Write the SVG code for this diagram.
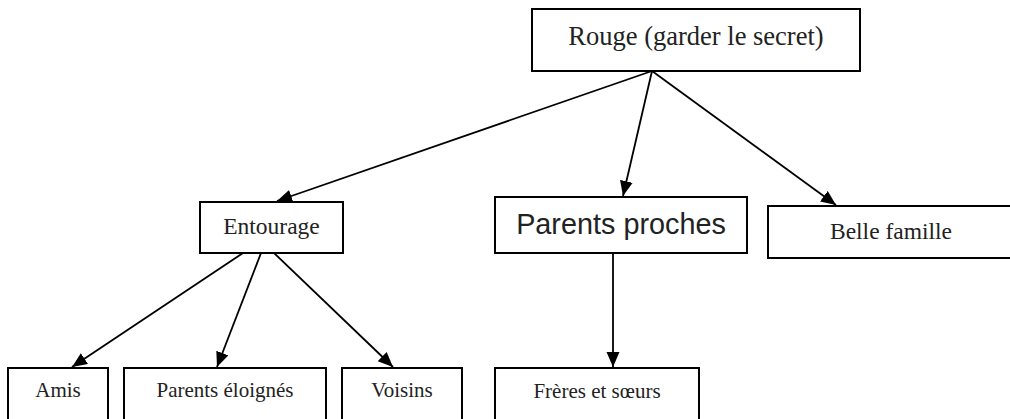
<svg xmlns="http://www.w3.org/2000/svg" width="1010" height="419" viewBox="0 0 1010 419">
<style>
.box{fill:#fff;stroke:#000;stroke-width:2}
.t{font-family:"Liberation Serif","Times New Roman",serif;fill:#222;text-anchor:middle}
.s{font-family:"Liberation Sans",Arial,sans-serif;fill:#222;text-anchor:middle}
.c{stroke:#000;stroke-width:1.8;fill:none;marker-end:url(#ah)}
</style>
<defs>
<marker id="ah" markerUnits="userSpaceOnUse" markerWidth="16" markerHeight="14" refX="15" refY="6.5" orient="auto">
<path d="M0,0 L15,6.5 L0,13 z" fill="#000"/>
</marker>
</defs>
<g id="connectors">
<line class="c" x1="652" y1="71" x2="277" y2="201"/>
<line class="c" x1="652" y1="71" x2="623" y2="196"/>
<line class="c" x1="652" y1="71" x2="836" y2="205"/>
<line class="c" x1="243" y1="253" x2="72" y2="367"/>
<line class="c" x1="261" y1="253" x2="217" y2="367"/>
<line class="c" x1="274" y1="253" x2="393" y2="367"/>
<line class="c" x1="613" y1="253" x2="613" y2="367"/>
</g>
<g id="rouge">
<rect class="box" x="532" y="9" width="328" height="62"/>
<text class="t" x="696" y="45" font-size="26.5">Rouge (garder le secret)</text>
</g>
<g id="entourage">
<rect class="box" x="200" y="202" width="143" height="51"/>
<text class="t" x="271.5" y="234" font-size="23.5">Entourage</text>
</g>
<g id="parents-proches">
<rect class="box" x="495" y="197" width="252" height="56"/>
<text class="s" x="621" y="234" font-size="28.8">Parents proches</text>
</g>
<g id="belle-famille">
<rect class="box" x="768" y="206" width="250" height="52"/>
<text class="t" x="891" y="239" font-size="23.5">Belle famille</text>
</g>
<g id="amis">
<rect class="box" x="8" y="368" width="100" height="60"/>
<text class="t" x="58" y="397" font-size="21">Amis</text>
</g>
<g id="parents-eloignes">
<rect class="box" x="124" y="368" width="202" height="60"/>
<text class="t" x="225" y="397" font-size="21">Parents éloignés</text>
</g>
<g id="voisins">
<rect class="box" x="342" y="368" width="120" height="60"/>
<text class="t" x="402" y="397" font-size="21">Voisins</text>
</g>
<g id="freres-soeurs">
<rect class="box" x="495" y="368" width="204" height="60"/>
<text class="t" x="597" y="398" font-size="21">Frères et sœurs</text>
</g>
</svg>
